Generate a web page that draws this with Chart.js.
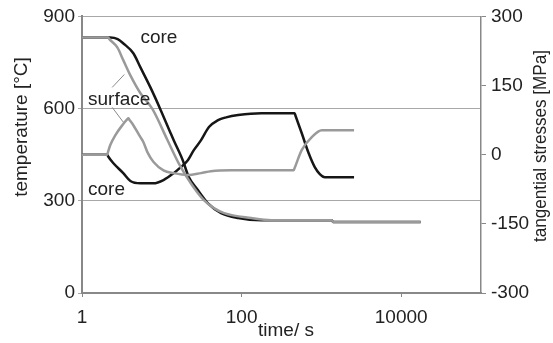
<!DOCTYPE html>
<html>
<head>
<meta charset="utf-8">
<script src="https://cdn.jsdelivr.net/npm/chart.js@4"></script>
<style>
  body { margin: 0; background: #fff; }
  canvas { display: block; }
</style>
</head>
<body>
<canvas id="myChart" width="553" height="343"></canvas>
<script>
// time in seconds (log axis)
const xTicks = [1, 100, 10000];

const coreTempTime = [1, 2.26, 2.8, 3.3, 4.4, 5.4, 7.2, 9.7, 12.9, 14.1, 18.3, 21.8, 28.3, 37.9, 55.3, 90.6, 177, 1350, 1400, 17500];
const coreTemp = [831, 831, 826, 812, 780, 734, 669, 595, 520, 497, 432, 377, 335, 292, 260, 244, 237, 237, 231, 231];

const surfTempTime = [1, 2.13, 2.2, 2.77, 3.3, 4.04, 5.4, 7.65, 11.8, 16.3, 23.1, 33.7, 45, 60.3, 132, 236, 1350, 1400, 17500];
const surfTemp = [831, 831, 826, 799, 757, 708, 650, 598, 497, 422, 357, 302, 276, 260, 244, 237, 237, 231, 231];

const coreStressTime = [1, 2.07, 2.13, 2.46, 3.29, 4.04, 5.4, 7.88, 10.5, 14.1, 17.3, 21.2, 25.2, 30.9, 39, 50.7, 64, 90.6, 177, 462, 475, 566, 693, 826, 955, 1104, 2566];
const coreStress = [0, 0, -4, -18, -40, -57, -62, -62, -55, -40, -27, -12, 10, 31, 60, 75, 81, 86, 90, 90, 84, 47, 3, -27, -42, -49, -49];

const surfStressTime = [1, 2.07, 2.12, 2.26, 2.61, 3.2, 3.7, 3.81, 3.92, 4.4, 5.4, 5.89, 6.62, 7.88, 10.5, 14.1, 21.2, 30.9, 41.3, 73.9, 449, 462, 566, 757, 1012, 2566];
const surfStress = [0, 0, 6, 21, 42, 64, 77, 79, 76, 64, 38, 27, 5, -16, -34, -40, -44, -40, -36, -34, -34, -29, 10, 38, 53, 53];

// curve labels: [text, time, temperature at baseline]
const curveLabels = [
    ['core', 5.4, 815],
    ['surface', 1.19, 611],
    ['core', 1.19, 318],
];
// leader lines from "surface" to the two grey curves
const leaders = [
    [2.39, 669, 3.39, 711],
    [2.39, 604, 3.29, 556],
];

const BLACK = '#161616';
const GREY = '#9a9a9a';
const FONT = "'Liberation Sans', Arial, sans-serif";

function pts(xs, ys) {
    return xs.map((x, i) => ({ x: x, y: ys[i] }));
}

const data = {
    datasets: [{
        label: 'surface temperature',
        data: pts(surfTempTime, surfTemp),
        borderColor: GREY,
        yAxisID: 'y',
    }, {
        label: 'surface stress',
        data: pts(surfStressTime, surfStress),
        borderColor: GREY,
        yAxisID: 'y1',
    }, {
        label: 'core temperature',
        data: pts(coreTempTime, coreTemp),
        borderColor: BLACK,
        yAxisID: 'y',
    }, {
        label: 'core stress',
        data: pts(coreStressTime, coreStress),
        borderColor: BLACK,
        yAxisID: 'y1',
    }]
};

const textPlugin = {
    id: 'texts',
    afterDraw(chart) {
        const ctx = chart.ctx;
        const x = chart.scales.x, y = chart.scales.y;
        ctx.save();
        ctx.fillStyle = '#222';
        ctx.font = '19px ' + FONT;
        ctx.textBaseline = 'alphabetic';
        ctx.textAlign = 'left';
        curveLabels.forEach(l => {
            ctx.fillText(l[0], x.getPixelForValue(l[1]), y.getPixelForValue(l[2]));
        });
        ctx.strokeStyle = '#8a8a8a';
        ctx.lineWidth = 1;
        leaders.forEach(l => {
            ctx.beginPath();
            ctx.moveTo(x.getPixelForValue(l[0]), y.getPixelForValue(l[1]));
            ctx.lineTo(x.getPixelForValue(l[2]), y.getPixelForValue(l[3]));
            ctx.stroke();
        });

        // axis titles
        ctx.textAlign = 'center';
        ctx.textBaseline = 'middle';
        ctx.fillText('time/ s', 286, 331);

        ctx.save();
        ctx.translate(22, 127);
        ctx.rotate(-Math.PI / 2);
        ctx.fillText('temperature [°C]', 0, 0);
        ctx.restore();

        ctx.save();
        ctx.translate(541, 146);
        ctx.rotate(-Math.PI / 2);
        ctx.scale(0.9, 1);
        ctx.fillText('tangential stresses [MPa]', 0, 0);
        ctx.restore();
        ctx.restore();
    }
};

const config = {
    type: 'line',
    data: data,
    options: {
        responsive: false,
        animation: false,
        layout: { padding: { top: 16, left: 0, right: 0, bottom: 0 } },
        elements: {
            point: { radius: 0 },
            line: { borderWidth: 2.5, cubicInterpolationMode: 'monotone', borderJoinStyle: 'round' }
        },
        plugins: {
            legend: { display: false },
            tooltip: { enabled: false }
        },
        scales: {
            x: {
                type: 'logarithmic',
                min: 1,
                max: 100000,
                afterBuildTicks: s => { s.ticks = xTicks.map(v => ({ value: v })); },
                afterFit: s => { s.height = 50; },
                ticks: {
                    color: '#222',
                    font: { family: FONT, size: 19 },
                    padding: 9,
                    maxRotation: 0,
                    callback: v => String(v)
                },
                grid: { drawOnChartArea: false, color: '#888', tickLength: 4 },
                border: { color: '#888', width: 2 }
            },
            y: {
                position: 'left',
                min: 0,
                max: 900,
                afterFit: s => { s.width = 82; },
                ticks: {
                    stepSize: 300,
                    color: '#222',
                    font: { family: FONT, size: 19 },
                    padding: 3
                },
                grid: { color: '#a8a8a8', lineWidth: 1, tickLength: 4 },
                border: { color: '#888', width: 2 }
            },
            y1: {
                position: 'right',
                min: -300,
                max: 300,
                afterFit: s => { s.width = 72; },
                ticks: {
                    stepSize: 150,
                    color: '#222',
                    font: { family: FONT, size: 19 },
                    padding: 5
                },
                grid: { drawOnChartArea: false, color: '#888', tickLength: 5 },
                border: { color: '#888', width: 1.5 }
            }
        }
    },
    plugins: [textPlugin]
};

var myChart = new Chart(
    document.getElementById('myChart'),
    config
);
</script>
</body>
</html>
